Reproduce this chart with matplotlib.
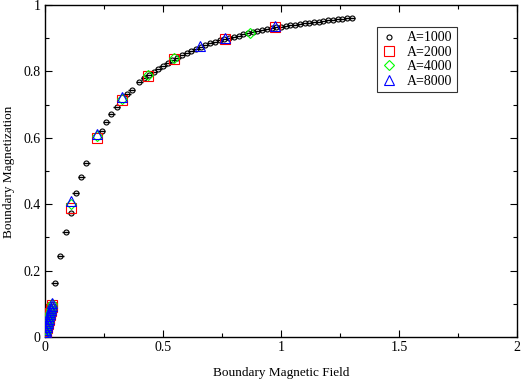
import matplotlib
matplotlib.use("Agg")
import matplotlib.pyplot as plt
from matplotlib.ticker import MultipleLocator
from matplotlib.lines import Line2D

plt.rcParams['font.family'] = ['Liberation Serif', 'DejaVu Serif']

# A=1000 (black circles with horizontal error bars)
x1000 = [0.042, 0.065, 0.088, 0.109, 0.131, 0.153, 0.175, 0.240, 0.259, 0.280, 0.304,
         0.349, 0.367,
         0.40, 0.42, 0.44, 0.46, 0.48, 0.50, 0.52, 0.54, 0.56, 0.58, 0.60, 0.62, 0.64,
         0.66, 0.68, 0.70, 0.72, 0.74, 0.76, 0.78, 0.80, 0.82, 0.84, 0.86, 0.88, 0.90,
         0.92, 0.94, 0.96, 0.98, 1.00, 1.02, 1.04, 1.06, 1.08, 1.10, 1.12, 1.14, 1.16,
         1.18, 1.20, 1.22, 1.24, 1.26, 1.28, 1.30]
y1000 = [0.163, 0.245, 0.315, 0.374, 0.433, 0.481, 0.524, 0.621, 0.647, 0.672, 0.694,
         0.731, 0.743,
         0.768, 0.779, 0.789, 0.799, 0.808, 0.817, 0.825, 0.834, 0.841, 0.848, 0.855,
         0.862, 0.868, 0.874, 0.879, 0.884, 0.889, 0.894, 0.898, 0.902, 0.905, 0.908,
         0.912, 0.915, 0.918, 0.921, 0.924, 0.927, 0.930, 0.933, 0.935, 0.937, 0.939,
         0.941, 0.943, 0.945, 0.947, 0.949, 0.950, 0.952, 0.954, 0.955, 0.957, 0.959,
         0.960, 0.962]
xerr1000 = 0.015

# small-field columns shared by A=2000/4000/8000
x_small = [0.000, 0.002, 0.004, 0.006, 0.008, 0.010, 0.012, 0.014, 0.016, 0.018,
           0.020, 0.022, 0.024, 0.026, 0.028, 0.030]

# A=2000 (red squares)
x2000 = x_small + [0.109, 0.219, 0.328, 0.437, 0.546, 0.763, 0.975]
y2000 = [0.000, 0.006, 0.013, 0.019, 0.026, 0.032, 0.039, 0.045, 0.052, 0.058,
         0.065, 0.071, 0.077, 0.084, 0.090, 0.096,
         0.388, 0.598, 0.713, 0.786, 0.837, 0.898, 0.933]

# A=4000 (green diamonds)
x4000 = x_small + [0.109, 0.219, 0.328, 0.437, 0.546, 0.870]
y4000 = [0.000, 0.007, 0.013, 0.020, 0.026, 0.033, 0.039, 0.046, 0.052, 0.059,
         0.065, 0.072, 0.078, 0.085, 0.091, 0.098,
         0.400, 0.605, 0.718, 0.788, 0.839, 0.917]

# A=8000 (blue triangles)
x8000 = x_small + [0.109, 0.219, 0.328, 0.655, 0.763, 0.975]
y8000 = [0.002, 0.009, 0.015, 0.022, 0.029, 0.035, 0.042, 0.048, 0.055, 0.062,
         0.068, 0.075, 0.081, 0.088, 0.094, 0.101,
         0.410, 0.612, 0.724, 0.876, 0.900, 0.936]

labels = ['A=1000', 'A=2000', 'A=4000', 'A=8000']

fig = plt.figure(figsize=(5.22, 3.82), dpi=100)
ax = fig.add_axes([0.0862, 0.1178, 0.9042, 0.8692])

ax.errorbar(x1000, y1000, xerr=xerr1000, fmt='o', ms=3.6, mfc='none', mec='black',
            mew=0.8, ecolor='black', elinewidth=1.0, capsize=0, zorder=3)
ax.plot(x2000, y2000, 's', ms=6.5, mfc='none', mec='#ff0000', mew=0.8, zorder=4)
ax.plot(x4000, y4000, 'D', ms=5.5, mfc='none', mec='#00ff00', mew=0.8, zorder=5)
ax.plot(x8000, y8000, '^', ms=7, mfc='none', mec='#0000ff', mew=0.8, zorder=6)

ax.set_xlim(0, 2)
ax.set_ylim(0, 1)
ax.set_xticks([0, 0.5, 1, 1.5, 2])
ax.set_xticklabels(['0', '0.5', '1', '1.5', '2'])
ax.set_yticks([0, 0.2, 0.4, 0.6, 0.8, 1.0])
ax.set_yticklabels(['0', '0.2', '0.4', '0.6', '0.8', '1'])
ax.xaxis.set_minor_locator(MultipleLocator(0.25))
ax.yaxis.set_minor_locator(MultipleLocator(0.1))
ax.tick_params(which='both', direction='in', top=True, right=True, labelsize=10, width=0.8)
ax.tick_params(which='major', length=5, pad=3)
ax.tick_params(which='minor', length=3)
for s in ax.spines.values():
    s.set_linewidth(1.0)

fig.text(0.538, 0.008, 'Boundary Magnetic Field', fontsize=9.5, ha='center', va='bottom')
fig.text(0.006, 0.55, 'Boundary Magnetization', fontsize=9.5, ha='left', va='center',
         rotation=90)

handles = [
    Line2D([], [], ls='none', marker='o', ms=3.6, mfc='none', mec='black', mew=0.8),
    Line2D([], [], ls='none', marker='s', ms=6.5, mfc='none', mec='#ff0000', mew=0.8),
    Line2D([], [], ls='none', marker='D', ms=5.5, mfc='none', mec='#00ff00', mew=0.8),
    Line2D([], [], ls='none', marker='^', ms=7, mfc='none', mec='#0000ff', mew=0.8),
]
leg = ax.legend(handles, labels, loc='upper right', bbox_to_anchor=(0.873, 0.935),
                fontsize=10, frameon=True, fancybox=False, borderpad=0.35,
                handletextpad=0.8, labelspacing=0.1, handlelength=1.0, borderaxespad=0)
leg.get_frame().set_edgecolor('black')
leg.get_frame().set_linewidth(0.8)

fig.savefig('out.png', dpi=100)
